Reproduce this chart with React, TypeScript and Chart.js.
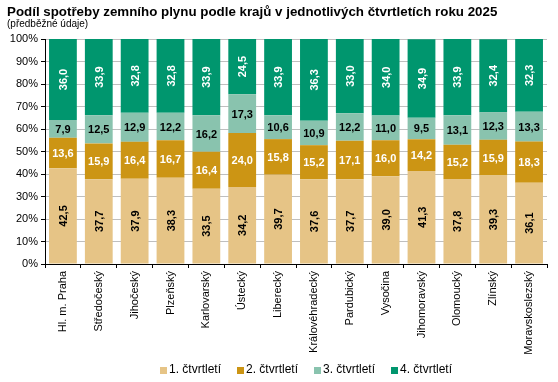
import React, { useEffect, useRef } from "react";
import { Chart, registerables } from "chart.js";

Chart.register(...registerables);

const TITLE = "Podíl spotřeby zemního plynu podle krajů v jednotlivých čtvrtletích roku 2025";
const SUBTITLE = "(předběžné údaje)";

const regions = [
  "Hl. m. Praha",
  "Středočeský",
  "Jihočeský",
  "Plzeňský",
  "Karlovarský",
  "Ústecký",
  "Liberecký",
  "Královéhradecký",
  "Pardubický",
  "Vysočina",
  "Jihomoravský",
  "Olomoucký",
  "Zlínský",
  "Moravskoslezský",
];

const seriesNames = ["1. čtvrtletí", "2. čtvrtletí", "3. čtvrtletí", "4. čtvrtletí"];

const q1 = [42.5, 37.7, 37.9, 38.3, 33.5, 34.2, 39.7, 37.6, 37.7, 39.0, 41.3, 37.8, 39.3, 36.1];
const q2 = [13.6, 15.9, 16.4, 16.7, 16.4, 24.0, 15.8, 15.2, 17.1, 16.0, 14.2, 15.2, 15.9, 18.3];
const q3 = [7.9, 12.5, 12.9, 12.2, 16.2, 17.3, 10.6, 10.9, 12.2, 11.0, 9.5, 13.1, 12.3, 13.3];
const q4 = [36.0, 33.9, 32.8, 32.8, 33.9, 24.5, 33.9, 36.3, 33.0, 34.0, 34.9, 33.9, 32.4, 32.3];

const seriesColors = ["#E6C486", "#CC9514", "#89C3AE", "#00966E"];
const labelColors = ["#000000", "#FFFFFF", "#000000", "#FFFFFF"];
const labelVertical = [true, false, false, true];

const yTicks = [0, 10, 20, 30, 40, 50, 60, 70, 80, 90, 100];

const FONT = "'Liberation Sans', Arial, sans-serif";

const fmt = (v: number) => v.toFixed(1).replace(".", ",");

const titlePlugin = {
  id: "titleText",
  afterDraw(chart: any) {
    const ctx = chart.ctx;
    ctx.save();
    ctx.fillStyle = "#000";
    ctx.textAlign = "left";
    ctx.textBaseline = "alphabetic";
    ctx.font = `bold 13.33px ${FONT}`;
    ctx.fillText(TITLE, 7, 16);
    ctx.font = `10px ${FONT}`;
    ctx.fillText(SUBTITLE, 7, 27);
    ctx.restore();
  },
};

const dataLabelPlugin = {
  id: "barLabels",
  afterDatasetsDraw(chart: any) {
    const ctx = chart.ctx;
    ctx.save();
    ctx.font = `bold 11px ${FONT}`;
    ctx.textAlign = "center";
    ctx.textBaseline = "middle";
    chart.data.datasets.forEach((ds: any, i: number) => {
      const meta = chart.getDatasetMeta(i);
      meta.data.forEach((bar: any, j: number) => {
        const { x, y, base } = bar.getProps(["x", "y", "base"], true);
        const cy = (y + base) / 2;
        const text = fmt(ds.data[j]);
        ctx.fillStyle = labelColors[i];
        if (labelVertical[i]) {
          ctx.save();
          ctx.translate(x, cy);
          ctx.rotate(-Math.PI / 2);
          ctx.fillText(text, 0, 1);
          ctx.restore();
        } else {
          ctx.fillText(text, x, cy + 1);
        }
      });
    });
    ctx.restore();
  },
};

const legendPlugin = {
  id: "customLegend",
  afterDraw(chart: any) {
    const ctx = chart.ctx;
    ctx.save();
    ctx.font = `12px ${FONT}`;
    ctx.textBaseline = "middle";
    ctx.textAlign = "left";
    const box = 7;
    const gap = 2;
    const spacing = 16;
    const items = chart.data.datasets.map((ds: any) => ({
      text: ds.label,
      color: ds.backgroundColor,
      w: box + gap + ctx.measureText(ds.label).width,
    }));
    const total = items.reduce((s: number, it: any) => s + it.w, 0) + spacing * (items.length - 1);
    const area = chart.chartArea;
    let x = (area.left + area.right) / 2 + 10 - total / 2;
    const cy = 370;
    items.forEach((it: any) => {
      ctx.fillStyle = it.color;
      ctx.fillRect(Math.round(x), cy - 3, box, box);
      ctx.fillStyle = "#000";
      ctx.fillText(it.text, x + box + gap, cy);
      x += it.w + spacing;
    });
    ctx.restore();
  },
};

export default function App() {
  const canvasRef = useRef<HTMLCanvasElement | null>(null);

  useEffect(() => {
    if (!canvasRef.current) return;
    Chart.defaults.font.family = FONT;
    const series = [q1, q2, q3, q4];
    const chart = new Chart(canvasRef.current, {
      type: "bar",
      data: {
        labels: regions,
        datasets: series.map((d, i) => ({
          label: seriesNames[i],
          data: d,
          backgroundColor: seriesColors[i],
          borderWidth: 0,
          categoryPercentage: 1,
          barPercentage: 0.775,
        })),
      },
      options: {
        responsive: false,
        animation: false,
        layout: { padding: { top: 39, right: 11, bottom: 0, left: 0 } },
        plugins: {
          legend: { display: false },
          title: { display: false },
          tooltip: { enabled: false },
        },
        scales: {
          x: {
            stacked: true,
            grid: {
              offset: true,
              drawOnChartArea: false,
              drawTicks: true,
              tickLength: 4,
              tickColor: "#000",
            },
            border: { color: "#000", width: 1 },
            ticks: {
              autoSkip: false,
              minRotation: 90,
              maxRotation: 90,
              padding: 3,
              color: "#000",
              font: { size: 11, family: FONT },
            },
            afterFit(scale: any) {
              scale.height = 118;
            },
          },
          y: {
            stacked: true,
            min: 0,
            max: 100,
            afterBuildTicks(scale: any) {
              scale.ticks = yTicks.map((v) => ({ value: v }));
            },
            grid: {
              color: "#BFBFBF",
              lineWidth: 1,
              drawTicks: true,
              tickLength: 4,
              tickColor: "#000",
            },
            border: { color: "#000", width: 1 },
            ticks: {
              padding: 3,
              color: "#000",
              font: { size: 11, family: FONT },
              callback: (v: any) => `${v}%`,
            },
            afterFit(scale: any) {
              scale.width = 45;
            },
          },
        },
      },
      plugins: [dataLabelPlugin, titlePlugin, legendPlugin],
    });
    return () => chart.destroy();
  }, []);

  return (
    <div style={{ position: "fixed", left: 0, top: 0, width: 558, height: 382, background: "#fff" }}>
      <canvas ref={canvasRef} width={558} height={382} style={{ display: "block" }} />
    </div>
  );
}
